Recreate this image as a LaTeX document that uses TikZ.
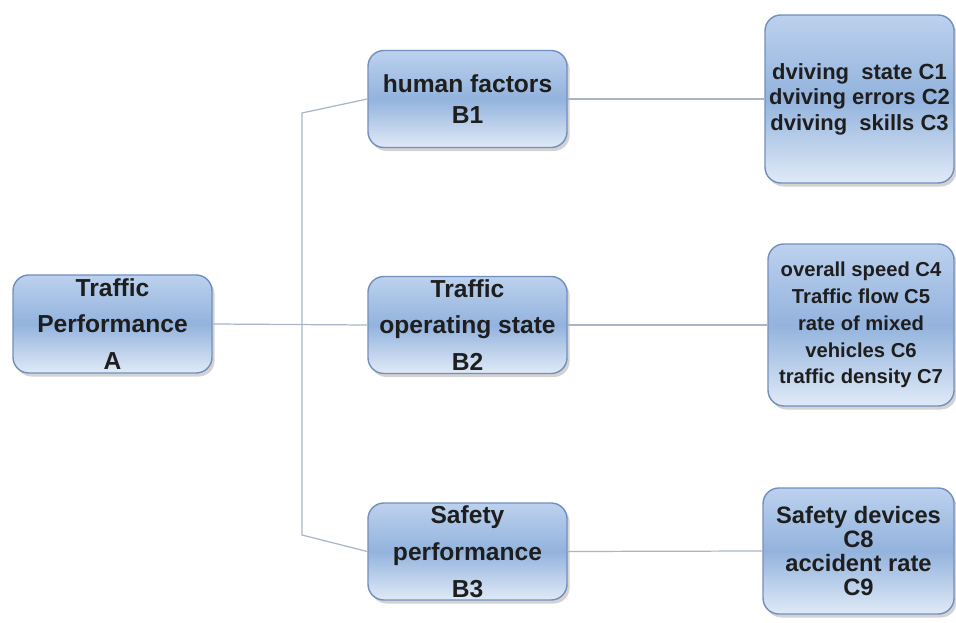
\documentclass[tikz,border=0pt]{standalone}
\usepackage{fontspec}
\setmainfont{Liberation Sans}
\usetikzlibrary{shadows}
\definecolor{boxedge}{HTML}{7290BD}
\definecolor{boxtop}{HTML}{BCD1EE}
\definecolor{boxmid}{HTML}{93B3DD}
\definecolor{boxlow}{HTML}{E0EAF7}
\definecolor{linkgray}{HTML}{A9B5C6}
\definecolor{textdark}{HTML}{1E1E1E}
\tikzset{
    factor/.style = {draw = boxedge, line width = 0.8pt, rounded corners = 9pt,
        top color = boxtop, bottom color = boxlow, middle color = boxmid,
        drop shadow = {shadow xshift = 1.5pt, shadow yshift = -2pt, opacity = 0.35},
        align = center, inner sep = 0pt, text = textdark,
        font = \bfseries\fontsize{14}{21}\selectfont},
    link/.style = {draw = linkgray, line width = 0.7pt}
}
\begin{document}
\begin{tikzpicture}
    \useasboundingbox (0,0) rectangle (19.12,12.44);
    % criteria layer
    \begin{scope}[every node/.append style = {minimum width = 3.98cm, minimum height = 1.94cm}]
        \node[factor, minimum height = 1.96cm] (A) at (2.25,5.96) {Traffic\\Performance\\A};
        \node[factor, font = \bfseries\fontsize{14}{18}\selectfont] (B1) at (9.35,10.46) {human factors\\B1};
        \node[factor] (B2) at (9.35,5.94) {Traffic\\operating state\\B2};
        \node[factor] (B3) at (9.35,1.41) {Safety\\performance\\B3};
    \end{scope}
    % indicator layer
    \node[factor, minimum width = 3.78cm, minimum height = 3.36cm,
        font = \bfseries\fontsize{12.5}{14.5}\selectfont] (C1) at (17.19,10.46)
        {dviving\ \ state C1\\dviving errors C2\\dviving\ \ skills C3};
    \node[factor, minimum width = 3.72cm, minimum height = 3.24cm,
        font = \bfseries\fontsize{11.5}{15.3}\selectfont] (C2) at (17.22,5.94)
        {overall speed C4\\Traffic flow C5\\rate of mixed\\vehicles C6\\traffic density C7};
    \node[factor, minimum width = 3.82cm, minimum height = 2.52cm,
        font = \bfseries\fontsize{13.5}{13.5}\selectfont] (C3) at (17.17,1.42)
        {Safety devices\\C8\\accident rate\\C9};
    % connectors
    \coordinate (up) at (6.04,10.18);
    \coordinate (down) at (6.04,1.74);
    \begin{scope}[on background layer/.try]
        \draw[link] (B1.west) -- (up) -- (down) -- (B3.west);
        \draw[link] (A.east) -- (B2.west);
        \draw[link] (B1.east) -- (C1.west);
        \draw[link] (B2.east) -- (C2.west);
        \draw[link] (B3.east) -- (C3.west);
    \end{scope}
\end{tikzpicture}
\end{document}
